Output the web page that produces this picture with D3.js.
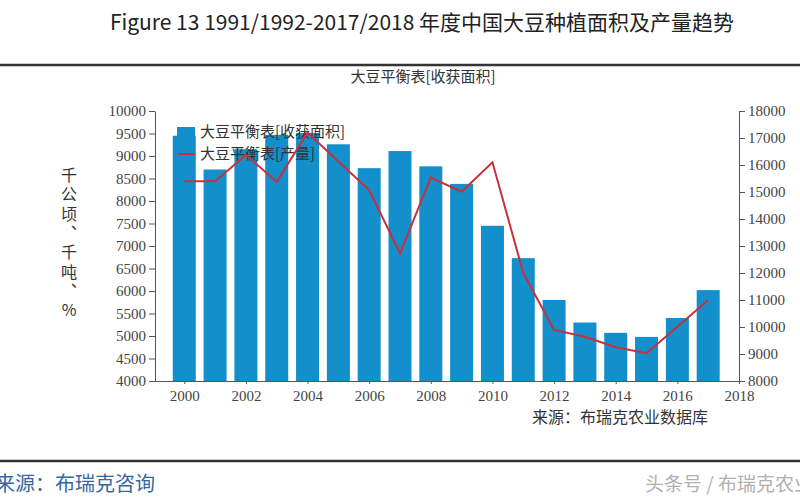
<!DOCTYPE html>
<html>
<head>
<meta charset="utf-8">
<script src="https://cdn.jsdelivr.net/npm/d3@7"></script>
<style>
  body { margin: 0; background: #fff; }
  svg { display: block; }
</style>
</head>
<body>
<div id="graph-container"></div>
<script>
// dati
var years = [2000, 2001, 2002, 2003, 2004, 2005, 2006, 2007, 2008, 2009, 2010, 2011, 2012, 2013, 2014, 2015, 2016, 2017];
// superficie raccolta (asse sinistro)
var areaValues = [9450, 8700, 9150, 9470, 9510, 9260, 8730, 9110, 8770, 8380, 7450, 6730, 5800, 5300, 5070, 4980, 5400, 6020];
// produzione (asse destro)
var outputValues = [15400, 15400, 16370, 15380, 17200, 16130, 15070, 12730, 15530, 15010, 16100, 12000, 9890, 9640, 9250, 9030, 10010, 11000];
var leftTicks = [4000, 4500, 5000, 5500, 6000, 6500, 7000, 7500, 8000, 8500, 9000, 9500, 10000];
var rightTicks = [8000, 9000, 10000, 11000, 12000, 13000, 14000, 15000, 16000, 17000, 18000];
var xTicks = [2000, 2002, 2004, 2006, 2008, 2010, 2012, 2014, 2016, 2018];
var legendLabels = ["大豆平衡表[收获面积]", "大豆平衡表[产量]"];
var yAxisLabel = "千公顷、千吨、%";

var width = 800;
var height = 500;
var cjk = "'Noto Sans CJK SC', sans-serif";
var serif = "'Liberation Serif', 'DejaVu Serif', serif";

var svg = d3
  .select("#graph-container")
  .append("svg")
  .attr("width", width)
  .attr("height", height);

// titolo e righe di separazione
svg
  .append("text")
  .attr("x", 422)
  .attr("y", 30)
  .attr("text-anchor", "middle")
  .attr("font-family", cjk)
  .attr("font-size", "21px")
  .attr("fill", "#222")
  .text("Figure 13 1991/1992-2017/2018 年度中国大豆种植面积及产量趋势");

svg.append("line").attr("x1", 0).attr("x2", width).attr("y1", 65).attr("y2", 65)
  .attr("stroke", "#333").attr("stroke-width", 2.5);
svg.append("line").attr("x1", 0).attr("x2", width).attr("y1", 461).attr("y2", 461)
  .attr("stroke", "#333").attr("stroke-width", 2.5);

svg
  .append("text")
  .attr("x", 423)
  .attr("y", 82)
  .attr("text-anchor", "middle")
  .attr("font-family", cjk)
  .attr("font-size", "15px")
  .attr("fill", "#333")
  .text("大豆平衡表[收获面积]");

// scale
var x = d3.scaleLinear().domain([1999.05, 2018]).range([155, 739]);
var yLeft = d3.scaleLinear().domain([4000, 10000]).range([381, 111]);
var yRight = d3.scaleLinear().domain([8000, 18000]).range([381, 111]);
var barWidth = 23;

// barre
svg
  .append("g")
  .selectAll("rect")
  .data(years)
  .enter()
  .append("rect")
  .attr("x", (d) => x(d) - barWidth / 2)
  .attr("y", (d, i) => yLeft(areaValues[i]))
  .attr("width", barWidth)
  .attr("height", (d, i) => yLeft(4000) - yLeft(areaValues[i]))
  .attr("fill", "#138fcc");

// legenda
var legend = svg.append("g");
legend.append("rect").attr("x", 177).attr("y", 127).attr("width", 18).attr("height", 10)
  .attr("fill", "#138fcc");
legend.append("line").attr("x1", 178).attr("x2", 195).attr("y1", 154).attr("y2", 154)
  .attr("stroke", "#c8303a").attr("stroke-width", 2);
legend
  .selectAll("text")
  .data(legendLabels)
  .enter()
  .append("text")
  .attr("x", 200)
  .attr("y", (d, i) => 137 + i * 22)
  .attr("font-family", cjk)
  .attr("font-size", "15px")
  .attr("fill", "#333")
  .text((d) => d);

// linea produzione
var line = d3
  .line()
  .x((d) => x(d))
  .y((d, i) => yRight(outputValues[i]));

svg
  .append("path")
  .datum(years)
  .attr("d", line)
  .attr("fill", "none")
  .attr("stroke", "#c8303a")
  .attr("stroke-width", 2);

// assi
function styleAxis(g) {
  g.selectAll("path, line").attr("stroke", "#555");
  g.selectAll("text")
    .attr("font-family", serif)
    .attr("font-size", "15px")
    .attr("fill", "#444");
}

svg
  .append("g")
  .attr("transform", "translate(155,0)")
  .call(d3.axisLeft(yLeft).tickValues(leftTicks).tickFormat(d3.format("d")).tickSize(6).tickSizeOuter(0).tickPadding(3))
  .call(styleAxis);

svg
  .append("g")
  .attr("transform", "translate(739,0)")
  .call(d3.axisRight(yRight).tickValues(rightTicks).tickFormat(d3.format("d")).tickSize(6).tickSizeOuter(0).tickPadding(3))
  .call(styleAxis);

svg
  .append("g")
  .attr("transform", "translate(0,381)")
  .call(d3.axisBottom(x).tickValues(xTicks).tickFormat(d3.format("d")).tickSize(3).tickSizeOuter(0).tickPadding(6))
  .call(styleAxis);

// etichetta verticale asse sinistro
svg
  .append("text")
  .attr("x", 69)
  .attr("y", 167)
  .style("writing-mode", "vertical-rl")
  .style("text-orientation", "upright")
  .style("letter-spacing", "3.3px")
  .attr("font-family", cjk)
  .attr("font-size", "16px")
  .attr("fill", "#333")
  .text(yAxisLabel);

// fonti
svg
  .append("text")
  .attr("x", 532)
  .attr("y", 423)
  .attr("font-family", cjk)
  .attr("font-size", "16px")
  .attr("fill", "#333")
  .text("来源：布瑞克农业数据库");

svg
  .append("text")
  .attr("x", -5)
  .attr("y", 491)
  .attr("font-family", cjk)
  .attr("font-size", "20px")
  .attr("fill", "#3567a3")
  .text("来源：布瑞克咨询");

svg
  .append("text")
  .attr("x", 645)
  .attr("y", 491)
  .attr("font-family", cjk)
  .attr("font-size", "19px")
  .attr("fill", "#b0b0b0")
  .text("头条号 / 布瑞克农业");
</script>
</body>
</html>
